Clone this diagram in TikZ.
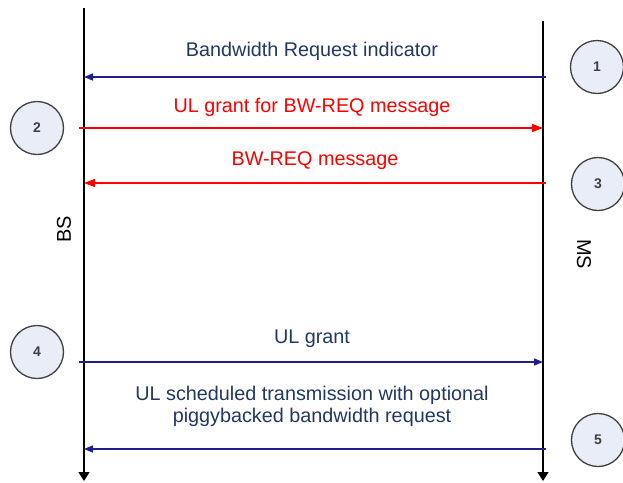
\documentclass[tikz,border=0pt]{standalone}
\usepackage{fontspec}
\setmainfont{Liberation Sans}
\usetikzlibrary{arrows.meta}
\definecolor{navy}{RGB}{30,30,140}
\definecolor{navytext}{RGB}{35,55,100}
\definecolor{circfill}{RGB}{232,237,247}
\tikzset{
  life/.style={line width=1.3pt,-{Triangle[length=9pt,width=11pt]}},
  bluemsg/.style={navy,line width=1.5pt,-{Triangle[length=9pt,width=7pt]}},
  redmsg/.style={red,line width=1.5pt,-{Triangle[length=11pt,width=8pt]}},
  bluetxt/.style={navytext,anchor=base,align=center,font=\fontsize{19.8}{22}\selectfont},
  redtxt/.style={red,anchor=base,font=\fontsize{19.8}{22}\selectfont},
  stepno/.style={circle,draw=black!75,line width=1.3pt,fill=circfill,minimum size=53pt,inner sep=0pt,
    font=\fontsize{14}{16}\selectfont\bfseries,text=black!75}
}
\begin{document}
\begin{tikzpicture}[x=1pt,y=-1pt]
\useasboundingbox (0,0) rectangle (623,482);
% lifelines
\coordinate (bstop) at (84,8);
\coordinate (bsbot) at (84,481);
\coordinate (mstop) at (543,21);
\coordinate (msbot) at (543,481);
\draw[life] (bstop)--(bsbot);
\draw[life] (mstop)--(msbot);
\node[rotate=90,font=\fontsize{20}{22}\selectfont] (bs) at (64,229) {BS};
\node[rotate=-90,font=\fontsize{20}{22}\selectfont] (ms) at (584,254) {MS};
% messages
\coordinate (bs1) at (84,77);   \coordinate (ms1) at (546,77);
\coordinate (bs2) at (79,128);  \coordinate (ms2) at (543,128);
\coordinate (bs3) at (84,183);  \coordinate (ms3) at (546,183);
\coordinate (bs4) at (79,362);  \coordinate (ms4) at (543,362);
\coordinate (bs5) at (84,449);  \coordinate (ms5) at (546,449);
\draw[bluemsg] (ms1)--(bs1);
\draw[redmsg] (bs2)--(ms2);
\draw[redmsg] (ms3)--(bs3);
\draw[bluemsg] (bs4)--(ms4);
\draw[bluemsg] (ms5)--(bs5);
\node[bluetxt] (t1) at (312,56) {Bandwidth Request indicator};
\node[redtxt] (t2) at (312,112) {UL grant for BW-REQ message};
\node[redtxt] (t3) at (315,165) {BW-REQ message};
\node[bluetxt] (t4) at (312,343) {UL grant};
\node[bluetxt] (t5) at (312,422) {UL scheduled transmission with optional\\piggybacked bandwidth request};
% step numbers
\node[stepno] (n1) at (597,67) {1};
\node[stepno] (n2) at (37,128) {2};
\node[stepno] (n3) at (598,184) {3};
\node[stepno] (n4) at (37,352) {4};
\node[stepno] (n5) at (598,440) {5};
\end{tikzpicture}
\end{document}
